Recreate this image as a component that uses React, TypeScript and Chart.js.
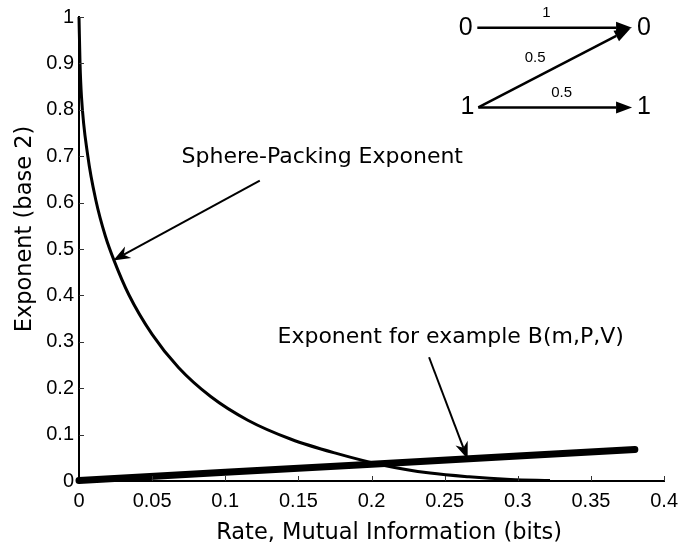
import React, { useEffect, useRef } from "react";
import { Chart, registerables } from "chart.js";

Chart.register(...registerables);

// Sphere-packing exponent
const spRate = [0, 0.0007, 0.0017, 0.006, 0.0116, 0.018, 0.024, 0.034, 0.05, 0.068, 0.09, 0.1154, 0.145, 0.176, 0.208, 0.24, 0.2666, 0.295, 0.322];
const spExp = [1, 0.9, 0.828, 0.701, 0.604, 0.528, 0.475, 0.402, 0.316, 0.2445, 0.182, 0.131, 0.09, 0.0595, 0.034, 0.017, 0.009, 0.0035, 0.001];

// Exponent for example B(m,P,V)
const exRate = [0, 0.1, 0.2, 0.3, 0.38];
const exExp = [0.001, 0.019, 0.036, 0.054, 0.068];

const xTicks = [0, 0.05, 0.1, 0.15, 0.2, 0.25, 0.3, 0.35, 0.4];
const yTicks = [0, 0.1, 0.2, 0.3, 0.4, 0.5, 0.6, 0.7, 0.8, 0.9, 1];

const xTitle = "Rate, Mutual Information (bits)";
const yTitle = "Exponent (base 2)";

// Annotation texts and arrows (data coordinates)
const labels = [
  { text: "Sphere-Packing Exponent", r: 0.0701, e: 0.6968 },
  { text: "Exponent for example B(m,P,V)", r: 0.1357, e: 0.3097 },
];
const arrows = [
  { r1: 0.1236, e1: 0.6473, r2: 0.0234, e2: 0.4753 },
  { r1: 0.2393, e1: 0.2667, r2: 0.2657, e2: 0.0473 },
];

// Channel diagram (data coordinates)
const nodeLabels = [
  { text: "0", r: 0.2644, e: 0.977 },
  { text: "0", r: 0.3862, e: 0.977 },
  { text: "1", r: 0.2655, e: 0.805 },
  { text: "1", r: 0.3862, e: 0.805 },
];
const edges = [
  { r1: 0.2723, e1: 0.977, r2: 0.3781, e2: 0.977 },
  { r1: 0.2730, e1: 0.805, r2: 0.3781, e2: 0.805 },
  { r1: 0.2730, e1: 0.805, r2: 0.3770, e2: 0.975 },
];
const edgeLabels = [
  { text: "1", r: 0.3195, e: 1.009 },
  { text: "0.5", r: 0.3118, e: 0.9125 },
  { text: "0.5", r: 0.3299, e: 0.8372 },
];

function fmt(v: number) {
  return String(parseFloat(v.toFixed(2)));
}

function drawArrow(
  ctx: CanvasRenderingContext2D,
  x1: number, y1: number, x2: number, y2: number,
  lw: number, hl: number, hw: number, notch: number
) {
  const ang = Math.atan2(y2 - y1, x2 - x1);
  const c = Math.cos(ang), s = Math.sin(ang);
  const bx = x2 - c * hl, by = y2 - s * hl;
  const nx = x2 - c * (hl - notch), ny = y2 - s * (hl - notch);
  ctx.save();
  ctx.strokeStyle = "#000";
  ctx.fillStyle = "#000";
  ctx.lineWidth = lw;
  ctx.beginPath();
  ctx.moveTo(x1, y1);
  ctx.lineTo(nx, ny);
  ctx.stroke();
  ctx.beginPath();
  ctx.moveTo(x2, y2);
  ctx.lineTo(bx - s * hw / 2, by + c * hw / 2);
  ctx.lineTo(nx, ny);
  ctx.lineTo(bx + s * hw / 2, by - c * hw / 2);
  ctx.closePath();
  ctx.fill();
  ctx.restore();
}

const decorPlugin = {
  id: "decor",
  afterDatasetsDraw(chart: any) {
    const ctx: CanvasRenderingContext2D = chart.ctx;
    const xs = chart.scales.x;
    const ys = chart.scales.y;
    const ca = chart.chartArea;
    const px = (r: number) => xs.getPixelForValue(r);
    const py = (e: number) => ys.getPixelForValue(e);

    ctx.save();
    // inward tick marks
    ctx.strokeStyle = "#333";
    ctx.lineWidth = 1;
    xTicks.forEach((t) => {
      if (t === 0) return;
      const x = Math.round(px(t)) + 0.5;
      ctx.beginPath();
      ctx.moveTo(x, ca.bottom);
      ctx.lineTo(x, ca.bottom - 5);
      ctx.stroke();
    });
    yTicks.forEach((t) => {
      if (t === 0) return;
      const y = Math.round(py(t)) + 0.5;
      ctx.beginPath();
      ctx.moveTo(ca.left, y);
      ctx.lineTo(ca.left + 5, y);
      ctx.stroke();
    });

    // axis titles
    ctx.fillStyle = "#000";
    ctx.font = '22.5px "DejaVu Sans"';
    ctx.textAlign = "center";
    ctx.textBaseline = "middle";
    ctx.fillText(xTitle, ca.left + (ca.right - ca.left) * 0.53, ca.bottom + 52);
    ctx.save();
    ctx.translate(25, ca.top + (ca.bottom - ca.top) * 0.457);
    ctx.rotate(-Math.PI / 2);
    ctx.fillText(yTitle, 0, 0);
    ctx.restore();

    // annotation labels
    ctx.font = '22px "DejaVu Sans"';
    ctx.textAlign = "left";
    labels.forEach((l) => ctx.fillText(l.text, px(l.r), py(l.e)));
    arrows.forEach((a) => drawArrow(ctx, px(a.r1), py(a.e1), px(a.r2), py(a.e2), 2, 17, 13, 5));

    // channel diagram
    ctx.font = '25px "Liberation Sans"';
    ctx.textAlign = "center";
    nodeLabels.forEach((n) => ctx.fillText(n.text, px(n.r), py(n.e)));
    edges.forEach((d) => drawArrow(ctx, px(d.r1), py(d.e1), px(d.r2), py(d.e2), 2.5, 16, 12, 0));
    ctx.font = '15px "Liberation Sans"';
    edgeLabels.forEach((n) => ctx.fillText(n.text, px(n.r), py(n.e)));
    ctx.restore();
  },
};

export default function App() {
  const ref = useRef<HTMLCanvasElement | null>(null);
  useEffect(() => {
    if (!ref.current) return;
    const chart = new Chart(ref.current, {
      type: "line",
      data: {
        datasets: [
          {
            label: "Exponent for example B(m,P,V)",
            data: exRate.map((r, i) => ({ x: r, y: exExp[i] })),
            borderColor: "#000",
            backgroundColor: "#000",
            borderWidth: 7,
            borderCapStyle: "round",
            pointRadius: 0,
            fill: false,
            clip: false as any,
          },
          {
            label: "Sphere-Packing Exponent",
            data: spRate.map((r, i) => ({ x: r, y: spExp[i] })),
            borderColor: "#000",
            backgroundColor: "#000",
            borderWidth: 3,
            pointRadius: 0,
            cubicInterpolationMode: "monotone",
            fill: false,
            clip: false as any,
          },
        ],
      },
      options: {
        animation: false,
        responsive: false,
        maintainAspectRatio: false,
        devicePixelRatio: 1,
        layout: { padding: { top: 16, right: 16, left: 0, bottom: 0 } },
        plugins: { legend: { display: false }, tooltip: { enabled: false } },
        scales: {
          x: {
            type: "linear",
            min: 0,
            max: 0.4,
            afterFit: (s: any) => { s.height = 65; },
            afterBuildTicks: (s: any) => { s.ticks = xTicks.map((v) => ({ value: v })); },
            ticks: {
              callback: (v: any) => fmt(Number(v)),
              color: "#000",
              font: { family: "Liberation Sans", size: 20 },
              padding: 8,
              maxRotation: 0,
              autoSkip: false,
            },
            grid: { drawOnChartArea: false, drawTicks: false },
            border: { display: true, color: "#000", width: 2 },
          },
          y: {
            type: "linear",
            min: 0,
            max: 1,
            afterFit: (s: any) => { s.width = 79; },
            afterBuildTicks: (s: any) => { s.ticks = yTicks.map((v) => ({ value: v })); },
            ticks: {
              callback: (v: any) => fmt(Number(v)),
              color: "#000",
              font: { family: "Liberation Sans", size: 20 },
              padding: 5,
              autoSkip: false,
            },
            grid: { drawOnChartArea: false, drawTicks: false },
            border: { display: true, color: "#000", width: 2 },
          },
        },
      },
      plugins: [decorPlugin],
    });
    return () => chart.destroy();
  }, []);
  return (
    <div style={{ position: "absolute", left: 0, top: 0, width: 686, height: 546, background: "#fff" }}>
      <canvas ref={ref} width={686} height={546} />
    </div>
  );
}
